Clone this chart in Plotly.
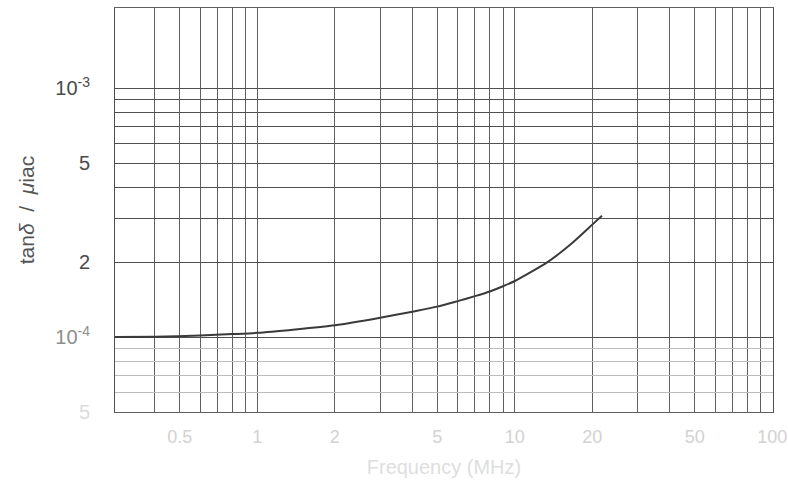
import plotly.graph_objects as go

# Data
freq_mhz = [0.28, 0.4, 0.6, 0.8, 1, 2, 3, 4, 5, 6, 7, 8, 9, 10, 13.4, 16.8, 20, 21.8]
tan_delta_per_mu = [1.0e-4, 1.003e-4, 1.015e-4, 1.028e-4, 1.04e-4, 1.115e-4, 1.195e-4,
                    1.265e-4, 1.325e-4, 1.395e-4, 1.46e-4, 1.525e-4, 1.60e-4, 1.68e-4,
                    2.0e-4, 2.4e-4, 2.83e-4, 3.07e-4]

# Axis ticks
x_tick_vals = [0.5, 1, 2, 5, 10, 20, 50, 100]
x_tick_text = ["0.5", "1", "2", "5", "10", "20", "50", "100"]
x_grid_vals = [0.4, 0.6, 0.7, 0.8, 0.9, 3, 4, 6, 7, 8, 9,
               30, 40, 60, 70, 80, 90]

y_tick_vals = [5e-5, 1e-4, 2e-4, 5e-4, 1e-3]
y_tick_text = ['<span style="color:#dcdcdc">5</span>',
               '<span style="color:#8e8e8e">10<sup>-4</sup></span>',
               "2", "5", "10<sup>-3</sup>"]
y_grid_upper = [3e-4, 4e-4, 6e-4, 7e-4, 8e-4, 9e-4]
y_grid_lower = [6e-5, 7e-5, 8e-5, 9e-5]

Y_RANGE = [-4.301, -2.678]

fig = go.Figure()
# invisible copy so the overlay axis (light lower grid) gets drawn
fig.add_trace(go.Scatter(
    x=freq_mhz, y=tan_delta_per_mu, mode="lines", yaxis="y2",
    line=dict(color="rgba(0,0,0,0)", width=0),
    showlegend=False, hoverinfo="skip"))
fig.add_trace(go.Scatter(
    x=freq_mhz, y=tan_delta_per_mu, mode="lines",
    line=dict(color="#3a3a3a", width=2, shape="spline", smoothing=0.6),
    showlegend=False, hoverinfo="skip"))

fig.update_layout(
    width=788, height=495,
    margin=dict(l=115, r=15, t=8, b=83),
    paper_bgcolor="white", plot_bgcolor="white",
    font=dict(family="Liberation Sans, Arial, sans-serif", size=19, color="#4a4a4a"),
)

fig.update_xaxes(
    type="log", range=[-0.553, 2.003], automargin=False,
    tickmode="array", tickvals=x_tick_vals, ticktext=x_tick_text,
    tickfont=dict(size=18, color="#d2d2d2"), ticklabeloverflow="allow",
    showgrid=True, gridcolor="#606060", gridwidth=1,
    minor=dict(tickmode="array", tickvals=x_grid_vals, showgrid=True,
               gridcolor="#606060", gridwidth=1),
    showline=True, linecolor="#606060", linewidth=1, mirror=True,
    ticks="", ticklabelstandoff=8,
    zeroline=False,
    title=dict(text="Frequency (MHz)", font=dict(size=20, color="#dedede"), standoff=14),
)

fig.update_layout(yaxis=dict(
    type="log", range=Y_RANGE, automargin=False,
    tickmode="array", tickvals=y_tick_vals, ticktext=y_tick_text,
    tickfont=dict(size=20, color="#4a4a4a"),
    showgrid=True, gridcolor="#4f4f4f", gridwidth=1,
    minor=dict(tickmode="array", tickvals=y_grid_upper, showgrid=True,
               gridcolor="#4f4f4f", gridwidth=1),
    showline=True, linecolor="#4f4f4f", linewidth=1, mirror=True,
    ticks="", ticklabelstandoff=20,
    zeroline=False,
    title=dict(text="tan<i>δ</i>  /  <i>μ</i>iac", font=dict(size=21, color="#555555"), standoff=14),
), yaxis2=dict(
    type="log", range=Y_RANGE, overlaying="y", side="left", automargin=False,
    tickmode="array", tickvals=y_grid_lower, showticklabels=False,
    showgrid=True, gridcolor="#bcbcbc", gridwidth=1,
    showline=False, zeroline=False, ticks="",
))

fig.write_html(
    "out.html",
    config={"displayModeBar": False},
    post_script="document.body.style.margin='0px';document.body.style.overflow='hidden';",
)
